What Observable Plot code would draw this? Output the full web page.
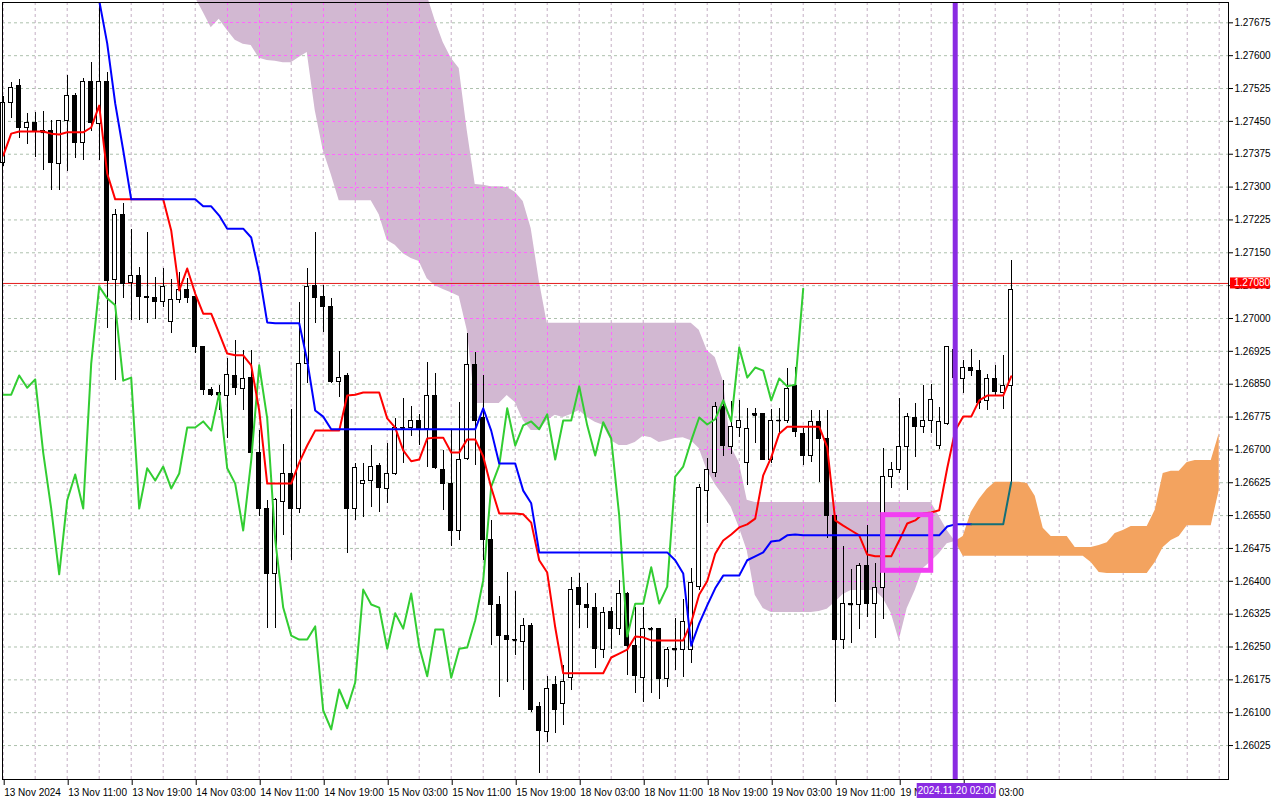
<!DOCTYPE html>
<html><head><meta charset="utf-8">
<script src="https://cdn.jsdelivr.net/npm/d3@7"></script>
<script src="https://cdn.jsdelivr.net/npm/@observablehq/plot@0.6"></script>
<style>html,body{margin:0;padding:0;background:#fff;}svg{display:block}</style>
</head><body><div id="chart"></div>
<script>
// ---- GBPUSD H1, bars indexed from 13 Nov 2024 03:00 ----
const open = [1.27356,1.27493,1.27530,1.27436,1.27447,1.27427,1.27427,1.27352,1.27450,1.27509,
1.27400,1.27541,1.27445,1.27539,1.27089,1.27237,1.27080,1.27096,1.27050,1.27046,
1.27037,1.26991,1.27043,1.27066,1.27048,1.26934,1.26836,1.26829,1.26824,1.26868,
1.26840,1.26865,1.26692,1.26564,1.26416,1.26580,1.26646,1.26564,1.26897,1.27075,
1.27048,1.27027,1.26854,1.26868,1.26564,1.26623,1.26630,1.26664,1.26610,1.26646,
1.26751,1.26751,1.26765,1.26747,1.26822,1.26655,1.26623,1.26514,1.26680,1.26893,
1.26772,1.26495,1.26345,1.26274,1.26267,1.26262,1.26297,1.26112,1.26057,1.26164,
1.26121,1.26180,1.26384,1.26347,1.26340,1.26244,1.26329,1.26292,1.26372,1.26253,
1.26180,1.26292,1.26290,1.26176,1.26246,1.26244,1.26244,1.26386,1.26607,1.26648,
1.26797,1.26706,1.26751,1.26669,1.26781,1.26781,1.26678,1.26765,1.26765,1.26847,
1.26737,1.26687,1.26763,1.26726,1.26550,1.26267,1.26349,1.26345,1.26434,1.26349,
1.26384,1.26637,1.26655,1.26706,1.26772,1.26753,1.26767,1.26708,1.26758,1.26927,
1.26861,1.26888,1.26879,1.26811,1.26861,1.26831,1.26847];
const high = [1.27507,1.27539,1.27546,1.27468,1.27470,1.27473,1.27452,1.27452,1.27555,1.27514,
1.27548,1.27584,1.27715,1.27562,1.27249,1.27263,1.27203,1.27116,1.27196,1.27094,
1.27114,1.27089,1.27105,1.27091,1.27055,1.26934,1.26842,1.26847,1.26909,1.26950,
1.26927,1.26927,1.26744,1.26585,1.26589,1.26712,1.26792,1.27037,1.27114,1.27196,
1.27075,1.27046,1.26925,1.26874,1.26669,1.26669,1.26710,1.26669,1.26715,1.26772,
1.26817,1.26799,1.26781,1.26900,1.26874,1.26699,1.26744,1.26808,1.26966,1.26922,
1.26870,1.26539,1.26365,1.26420,1.26377,1.26315,1.26304,1.26123,1.26183,1.26183,
1.26208,1.26409,1.26418,1.26395,1.26372,1.26340,1.26340,1.26402,1.26374,1.26340,
1.26340,1.26295,1.26292,1.26249,1.26315,1.26358,1.26429,1.26621,1.26680,1.26808,
1.26858,1.26811,1.26813,1.26795,1.26795,1.26783,1.26792,1.26795,1.26886,1.26888,
1.26749,1.26790,1.26790,1.26790,1.26550,1.26479,1.26427,1.26441,1.26527,1.26441,
1.26703,1.26671,1.26817,1.26783,1.26806,1.26847,1.26849,1.26797,1.26936,1.26950,
1.26904,1.26929,1.26904,1.26872,1.26893,1.26916,1.27132];
const low = [1.27347,1.27457,1.27411,1.27397,1.27368,1.27338,1.27292,1.27292,1.27336,1.27365,
1.27361,1.27427,1.27361,1.26977,1.26858,1.27046,1.26995,1.26995,1.26989,1.26998,
1.27025,1.26966,1.27034,1.27034,1.26920,1.26824,1.26822,1.26790,1.26726,1.26824,
1.26790,1.26680,1.26548,1.26292,1.26292,1.26505,1.26448,1.26555,1.26852,1.26989,
1.26968,1.26852,1.26820,1.26463,1.26539,1.26546,1.26569,1.26557,1.26578,1.26642,
1.26669,1.26731,1.26710,1.26660,1.26655,1.26562,1.26479,1.26493,1.26676,1.26664,
1.26448,1.26253,1.26135,1.26169,1.26231,1.26151,1.26100,1.25961,1.26032,1.26053,
1.26071,1.26151,1.26292,1.26292,1.26201,1.26224,1.26244,1.26276,1.26185,1.26144,
1.26123,1.26144,1.26130,1.26158,1.26196,1.26180,1.26212,1.26379,1.26532,1.26637,
1.26685,1.26689,1.26728,1.26619,1.26715,1.26676,1.26669,1.26737,1.26760,1.26728,
1.26664,1.26671,1.26626,1.26498,1.26123,1.26244,1.26258,1.26290,1.26317,1.26269,
1.26313,1.26612,1.26646,1.26607,1.26683,1.26737,1.26737,1.26701,1.26756,1.26854,
1.26829,1.26868,1.26792,1.26790,1.26824,1.26792,1.26626];
const close = [1.27493,1.27527,1.27434,1.27447,1.27429,1.27425,1.27356,1.27450,1.27509,1.27400,
1.27541,1.27447,1.27539,1.27085,1.27237,1.27078,1.27096,1.27050,1.27046,1.27037,
1.27073,1.27043,1.27066,1.27046,1.26934,1.26836,1.26826,1.26826,1.26870,1.26842,
1.26861,1.26694,1.26566,1.26416,1.26585,1.26644,1.26566,1.26897,1.27073,1.27046,
1.27027,1.26856,1.26865,1.26564,1.26658,1.26630,1.26662,1.26612,1.26646,1.26751,
1.26749,1.26765,1.26747,1.26824,1.26658,1.26623,1.26514,1.26676,1.26893,1.26767,
1.26495,1.26345,1.26274,1.26265,1.26265,1.26297,1.26107,1.26059,1.26153,1.26107,
1.26171,1.26381,1.26347,1.26340,1.26246,1.26327,1.26292,1.26372,1.26253,1.26183,
1.26290,1.26290,1.26178,1.26244,1.26244,1.26306,1.26395,1.26612,1.26653,1.26797,
1.26710,1.26753,1.26765,1.26747,1.26779,1.26678,1.26765,1.26767,1.26840,1.26740,
1.26687,1.26763,1.26726,1.26550,1.26267,1.26349,1.26347,1.26434,1.26349,1.26384,
1.26637,1.26655,1.26706,1.26774,1.26753,1.26767,1.26813,1.26763,1.26934,1.26865,
1.26886,1.26879,1.26808,1.26861,1.26833,1.26847,1.27066];

// Ichimoku Kinko Hyo (9, 26, 52)
const tenkan = [1.27372,1.27422,1.27427,1.27427,1.27427,1.27427,1.27422,1.27420,1.27425,1.27425,
1.27425,1.27436,1.27486,1.27331,1.27272,1.27272,1.27272,1.27272,1.27272,1.27272,
1.27272,1.27201,1.27064,1.27114,1.27057,1.27011,1.27011,1.26966,1.26920,1.26916,
1.26916,1.26893,1.26790,1.26623,1.26623,1.26623,1.26623,1.26671,1.26710,1.26744,
1.26744,1.26744,1.26744,1.26824,1.26826,1.26831,1.26831,1.26831,1.26772,1.26751,
1.26699,1.26674,1.26678,1.26726,1.26728,1.26728,1.26694,1.26694,1.26724,1.26724,
1.26685,1.26614,1.26555,1.26555,1.26555,1.26553,1.26534,1.26448,1.26420,1.26295,
1.26190,1.26190,1.26190,1.26190,1.26190,1.26190,1.26226,1.26235,1.26244,1.26274,
1.26272,1.26265,1.26265,1.26265,1.26265,1.26265,1.26306,1.26370,1.26400,1.26463,
1.26493,1.26507,1.26523,1.26530,1.26543,1.26642,1.26683,1.26737,1.26753,1.26753,
1.26753,1.26753,1.26753,1.26706,1.26539,1.26527,1.26516,1.26505,1.26461,1.26457,
1.26457,1.26457,1.26493,1.26532,1.26539,1.26555,1.26557,1.26562,1.26658,1.26744,
1.26776,1.26776,1.26813,1.26824,1.26824,1.26824,1.26868];
const kijun = [null,null,null,null,null,null,null,null,null,null,
null,null,1.27726,1.27628,1.27491,1.27384,1.27272,1.27272,1.27272,1.27272,
1.27272,1.27272,1.27272,1.27272,1.27272,1.27256,1.27256,1.27235,1.27205,1.27205,
1.27205,1.27185,1.27103,1.26991,1.26989,1.26989,1.26989,1.26989,1.26904,1.26790,
1.26776,1.26747,1.26747,1.26747,1.26747,1.26747,1.26747,1.26747,1.26747,1.26747,
1.26747,1.26747,1.26747,1.26747,1.26747,1.26747,1.26747,1.26747,1.26747,1.26747,
1.26795,1.26744,1.26669,1.26669,1.26669,1.26607,1.26578,1.26466,1.26466,1.26466,
1.26466,1.26466,1.26466,1.26466,1.26466,1.26466,1.26466,1.26466,1.26466,1.26466,
1.26466,1.26466,1.26466,1.26466,1.26448,1.26418,1.26253,1.26304,1.26345,1.26384,
1.26413,1.26413,1.26413,1.26448,1.26457,1.26466,1.26491,1.26493,1.26505,1.26507,
1.26505,1.26505,1.26505,1.26505,1.26505,1.26505,1.26505,1.26505,1.26505,1.26505,
1.26505,1.26505,1.26505,1.26505,1.26505,1.26505,1.26505,1.26505,1.26525,1.26530,
1.26530,1.26530,1.26530,1.26530,1.26530,1.26530,1.26626];
const chikou = [1.26826,1.26826,1.26870,1.26842,1.26861,1.26694,1.26566,1.26416,1.26585,1.26644,
1.26566,1.26897,1.27073,1.27046,1.27030,1.26858,1.26865,1.26566,1.26658,1.26630,
1.26662,1.26612,1.26646,1.26751,1.26751,1.26765,1.26744,1.26829,1.26658,1.26623,
1.26516,1.26676,1.26893,1.26772,1.26495,1.26340,1.26276,1.26267,1.26267,1.26297,
1.26105,1.26062,1.26153,1.26110,1.26169,1.26381,1.26347,1.26340,1.26246,1.26327,
1.26292,1.26372,1.26251,1.26183,1.26290,1.26290,1.26180,1.26246,1.26249,1.26311,
1.26402,1.26616,1.26664,1.26795,1.26710,1.26756,1.26765,1.26747,1.26781,1.26678,
1.26767,1.26767,1.26845,1.26756,1.26687,1.26763,1.26726,1.26550,1.26274,1.26349,
1.26349,1.26432,1.26349,1.26388,1.26639,1.26662,1.26721,1.26774,1.26758,1.26770,
1.26813,1.26765,1.26934,1.26865,1.26888,1.26881,1.26813,1.26863,1.26845,1.26849,
1.27068];
const spanA = [null,null,null,null,null,null,null,null,null,null,
null,null,null,null,null,null,null,null,null,null,
null,null,null,null,1.27733,1.27699,1.27664,1.27683,1.27658,1.27635,
1.27626,1.27623,1.27594,1.27589,1.27587,1.27584,1.27584,1.27596,1.27607,1.27475,
1.27384,1.27329,1.27269,1.27269,1.27269,1.27269,1.27269,1.27237,1.27178,1.27167,
1.27148,1.27137,1.27130,1.27091,1.27075,1.27066,1.27059,1.27050,1.26973,1.26806,
1.26806,1.26806,1.26806,1.26824,1.26808,1.26767,1.26744,1.26744,1.26767,1.26779,
1.26774,1.26781,1.26790,1.26774,1.26763,1.26756,1.26721,1.26710,1.26710,1.26717,
1.26731,1.26728,1.26717,1.26721,1.26726,1.26728,1.26721,1.26703,1.26653,1.26621,
1.26596,1.26569,1.26523,1.26470,1.26368,1.26338,1.26329,1.26329,1.26329,1.26329,
1.26329,1.26329,1.26331,1.26336,1.26352,1.26370,1.26379,1.26379,1.26379,1.26379,
1.26361,1.26327,1.26265,1.26338,1.26379,1.26429,1.26445,1.26463,1.26486,1.26491,
1.26502,1.26557,1.26587,1.26610,1.26626,1.26626,1.26626,1.26626,1.26623,1.26594,
1.26521,1.26502,1.26502,1.26502,1.26477,1.26477,1.26477,1.26482,1.26488,1.26509,
1.26516,1.26525,1.26525,1.26525,1.26562,1.26646,1.26651,1.26651,1.26671,1.26676,
1.26676,1.26676,1.26737];
const spanB = [null,null,null,null,null,null,null,null,null,null,
null,null,null,null,null,null,null,null,null,null,
null,null,null,null,1.27800,1.27800,1.27800,1.27800,1.27800,1.27800,
1.27800,1.27800,1.27800,1.27800,1.27800,1.27800,1.27800,1.27800,1.27800,1.27800,
1.27800,1.27800,1.27800,1.27800,1.27800,1.27800,1.27800,1.27800,1.27800,1.27800,
1.27800,1.27800,1.27800,1.27737,1.27680,1.27630,1.27594,1.27571,1.27429,1.27306,
1.27304,1.27301,1.27301,1.27299,1.27288,1.27267,1.27205,1.27087,1.26989,1.26989,
1.26989,1.26989,1.26989,1.26989,1.26989,1.26989,1.26989,1.26989,1.26989,1.26989,
1.26989,1.26989,1.26989,1.26989,1.26989,1.26989,1.26989,1.26973,1.26927,1.26911,
1.26858,1.26706,1.26671,1.26585,1.26580,1.26580,1.26580,1.26580,1.26580,1.26580,
1.26580,1.26580,1.26580,1.26580,1.26580,1.26580,1.26580,1.26580,1.26580,1.26580,
1.26580,1.26580,1.26580,1.26580,1.26580,1.26580,1.26580,1.26548,1.26516,1.26491,
1.26457,1.26457,1.26457,1.26457,1.26457,1.26457,1.26457,1.26457,1.26457,1.26457,
1.26457,1.26457,1.26457,1.26457,1.26457,1.26457,1.26443,1.26420,1.26418,1.26418,
1.26418,1.26418,1.26418,1.26418,1.26443,1.26477,1.26493,1.26502,1.26527,1.26527,
1.26527,1.26527,1.26607];

const bidPrice = 1.27080;
const eventBar = 119;
const eventLabel = "2024.11.20 02:00";
const boxes = [{from: 110, to: 116, top: 1.26551, bottom: 1.26424}];
const priceTicks = [1.26025,1.26100,1.26175,1.26250,1.26325,1.26400,1.26475,1.26550,1.26625,1.26700,
1.26775,1.26850,1.26925,1.27000,1.27075,1.27150,1.27225,1.27300,1.27375,1.27450,1.27525,1.27600,1.27675];
const xTicks = [0,8,16,24,32,40,48,56,64,72,80,88,96,104,112,120];
const xLabels = ["13 Nov 2024","13 Nov 11:00","13 Nov 19:00","14 Nov 03:00","14 Nov 11:00","14 Nov 19:00",
"15 Nov 03:00","15 Nov 11:00","15 Nov 19:00","18 Nov 03:00","18 Nov 11:00","18 Nov 19:00",
"19 Nov 03:00","19 Nov 11:00","19 Nov 19:00","20 Nov 03:00"];

// ---- derived tables ----
const candles = open.map((o, k) => ({k, open: o, high: high[k], low: low[k], close: close[k]}));
const tenkanRows = tenkan.map((v, k) => ({k, v}));
const kijunRows = kijun.map((v, k) => ({k, v}));
const kijunBlue = kijunRows.filter(d => d.k <= 121);
const kijunTeal = kijunRows.filter(d => d.k >= 121);
const chikouRows = chikou.map((v, k) => ({k, v}));
const cloud = spanA.map((a, k) => ({k, a, b: spanB[k]})).filter(d => d.a != null && d.b != null);
const thistle = cloud.filter(d => d.b >= d.a && d.k <= 119);
const orange = cloud.filter(d => d.a >= d.b && d.k >= 119);
const gridK = d3.range(0, 153, 4);
const dojis = candles.filter(d => Math.abs(d.close - d.open) < 0.00004);

const FONT = "'Liberation Sans', Arial, sans-serif";
const chart = Plot.plot({
  width: 1280, height: 800,
  marginLeft: 2, marginRight: 52, marginTop: 2, marginBottom: 21,
  x: {domain: [-0.0875, 153.16]},
  y: {domain: [1.259475, 1.277214]},
  style: {fontFamily: FONT, fontSize: "10px", background: "#ffffff", color: "#000000"},
  marks: [
    Plot.gridY(priceTicks, {stroke: "#adc0ad", strokeOpacity: 1, strokeDasharray: "3,3"}),
    Plot.gridX(gridK, {stroke: "#c4afc4", strokeOpacity: 1, strokeDasharray: "3,3"}),
    Plot.areaY(thistle, {x: "k", y1: "a", y2: "b", fill: "#d2b8d2"}),
    Plot.areaY(orange, {x: "k", y1: "a", y2: "b", fill: "#f3a35f"}),
    Plot.ruleY([bidPrice], {stroke: "#e31a1a", strokeWidth: 1}),
    Plot.ruleX(candles, {x: "k", y1: "low", y2: "high", stroke: "#000", strokeWidth: 1, shapeRendering: "crispEdges"}),
    Plot.rect(candles, {x1: d => d.k - 0.25, x2: d => d.k + 0.25, y1: "open", y2: "close",
      fill: d => d.close > d.open ? "#ffffff" : "#000000", stroke: "#000", strokeWidth: 1, shapeRendering: "crispEdges"}),
    Plot.ruleY(dojis, {y: "close", x1: d => d.k - 0.25, x2: d => d.k + 0.25, stroke: "#000", strokeWidth: 1.5}),
    Plot.line(chikouRows, {x: "k", y: "v", stroke: "#32cd32", strokeWidth: 2}),
    Plot.line(tenkanRows, {x: "k", y: "v", stroke: "#ff0000", strokeWidth: 2}),
    Plot.line(kijunBlue, {x: "k", y: "v", stroke: "#0000ff", strokeWidth: 2, clip: true}),
    Plot.line(kijunTeal, {x: "k", y: "v", stroke: "#136f78", strokeWidth: 2}),
    Plot.ruleX([eventBar], {stroke: "#8a2be2", strokeWidth: 5}),
    Plot.rect(boxes, {x1: "from", x2: "to", y1: "top", y2: "bottom", fill: "none", stroke: "#f23ff2", strokeWidth: 5}),
    Plot.frame({stroke: "#000"}),
    Plot.axisY(priceTicks, {anchor: "right", tickSize: 4, tickPadding: 2, tickFormat: d => d.toFixed(5), fontSize: 10}),
    Plot.axisX(xTicks, {anchor: "bottom", tickSize: 6, tickPadding: 3, textAnchor: "start", dx: 1,
      tickFormat: d => xLabels[Math.round(d / 8)], fontSize: 10})
  ]
});

// ---- overlays: cloud-tinted grid, price and time labels ----
const xs = chart.scale("x"), ys = chart.scale("y");
const svg = d3.select(chart);
const yEdges = d3.extent(ys.range), xEdges = d3.extent(xs.range);

try {
  const areaGen = d3.area().x(d => xs.apply(d.k)).y0(d => ys.apply(d.a)).y1(d => ys.apply(d.b));
  svg.append("defs").append("clipPath").attr("id", "cloudclip").append("path").attr("d", areaGen(thistle));
  const areaNodes = svg.selectAll('g[aria-label="area"]').nodes();
  const thistleNode = areaNodes[0];
  if (thistleNode) {
    const g = document.createElementNS("http://www.w3.org/2000/svg", "g");
    thistleNode.parentNode.insertBefore(g, thistleNode.nextSibling);
    const gg = d3.select(g).attr("clip-path", "url(#cloudclip)").attr("fill", "#ff66ff");
    // vertical dashed grid inside the cloud, as 1px dash cells
    gridK.forEach(k => {
      const px = Math.round(xs.apply(k));
      for (let y = yEdges[0]; y < yEdges[1]; y += 6) gg.append("rect").attr("x", px).attr("y", y).attr("width", 1).attr("height", 3);
    });
    priceTicks.forEach(p => {
      const py = Math.round(ys.apply(p));
      for (let x = xEdges[0]; x < xEdges[1]; x += 6) gg.append("rect").attr("x", x).attr("y", py).attr("width", 3).attr("height", 1);
    });
  }
} catch (e) {}

const xR = xEdges[1], yBot = yEdges[1];
const yb = ys.apply(bidPrice);
svg.append("rect").attr("x", xR + 2).attr("y", yb - 5.5).attr("width", 40).attr("height", 11).attr("fill", "#ff0000");
svg.append("text").attr("x", xR + 6).attr("y", yb).attr("dy", "0.35em").attr("text-anchor", "start").attr("fill", "#ffffff")
  .attr("font-family", FONT).attr("font-size", 10).text(bidPrice.toFixed(5));

const xe = xs.apply(eventBar);
svg.append("rect").attr("x", xe - 38).attr("y", yBot + 4).attr("width", 79).attr("height", 15).attr("fill", "#8a2be2");
svg.append("text").attr("x", xe + 1.5).attr("y", yBot + 11.5).attr("dy", "0.35em").attr("text-anchor", "middle")
  .attr("fill", "#ffffff").attr("font-family", FONT).attr("font-size", 10).text(eventLabel);

document.getElementById("chart").appendChild(chart);
</script>
</body></html>
